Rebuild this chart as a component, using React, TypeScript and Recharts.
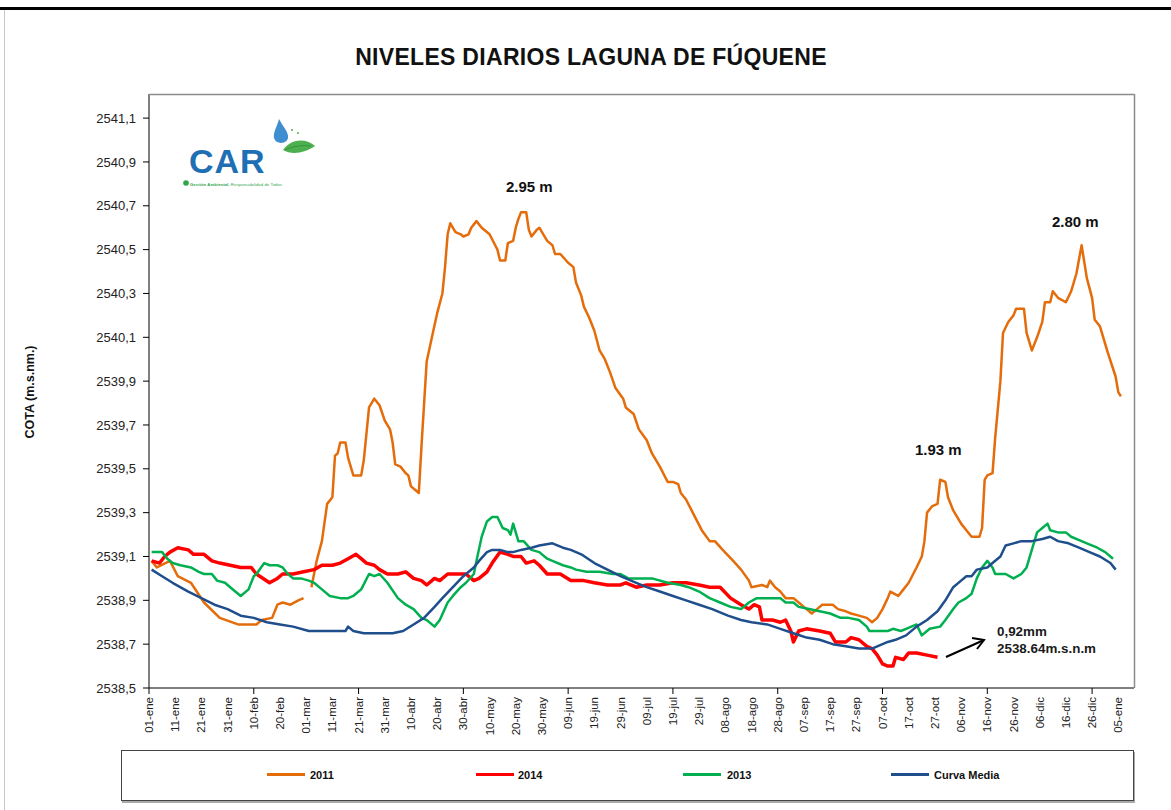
import React from 'react';
import { LineChart, Line, XAxis, YAxis } from 'recharts';

// etiquetas del eje X (cada 10 dias, eje de año bisiesto)
const etiquetasFecha = [
    '01-ene', '11-ene', '21-ene', '31-ene', '10-feb', '20-feb', '01-mar', '11-mar', '21-mar', '31-mar',
    '10-abr', '20-abr', '30-abr', '10-may', '20-may', '30-may', '09-jun', '19-jun', '29-jun', '09-jul',
    '19-jul', '29-jul', '08-ago', '18-ago', '28-ago', '07-sep', '17-sep', '27-sep', '07-oct', '17-oct',
    '27-oct', '06-nov', '16-nov', '26-nov', '06-dic', '16-dic', '26-dic', '05-ene'
];
const diasTicks = etiquetasFecha.map((_, i) => i * 10);

const cotasTicks = [
    2538.5, 2538.7, 2538.9, 2539.1, 2539.3, 2539.5, 2539.7, 2539.9, 2540.1, 2540.3, 2540.5, 2540.7, 2540.9, 2541.1
];

// [dia del año, cota m.s.n.m]
const serie2011: [number, number | null][] = [
    [1, 2539.08], [3, 2539.05], [8, 2539.08], [11, 2539.01], [16, 2538.98], [21, 2538.89], [27, 2538.82],
    [34, 2538.79], [41, 2538.79], [43, 2538.81], [47, 2538.82], [49, 2538.88], [51, 2538.89], [54, 2538.88],
    [57, 2538.90], [59, 2538.91], [60, null], [62, 2538.96], [64, 2539.08], [66, 2539.17], [68, 2539.34],
    [70, 2539.37], [71, 2539.56], [72, 2539.57], [73, 2539.62], [75, 2539.62], [76, 2539.55], [78, 2539.47],
    [81, 2539.47], [82, 2539.54], [84, 2539.78], [86, 2539.82], [88, 2539.79], [90, 2539.72], [92, 2539.68],
    [93, 2539.62], [94, 2539.52], [96, 2539.51], [98, 2539.48], [99, 2539.47], [100, 2539.42], [102, 2539.40],
    [103, 2539.39], [104, 2539.60], [106, 2539.99], [108, 2540.10], [110, 2540.21], [112, 2540.30],
    [113, 2540.42], [114, 2540.57], [115, 2540.62], [117, 2540.58], [119, 2540.57], [120, 2540.56],
    [122, 2540.57], [123, 2540.60], [125, 2540.63], [127, 2540.60], [130, 2540.57], [133, 2540.50],
    [134, 2540.45], [136, 2540.45], [137, 2540.53], [139, 2540.54], [140, 2540.60], [141, 2540.64],
    [142, 2540.67], [144, 2540.67], [145, 2540.59], [146, 2540.56], [148, 2540.59], [149, 2540.60],
    [150, 2540.58], [152, 2540.54], [154, 2540.52], [155, 2540.48], [157, 2540.48], [160, 2540.44],
    [162, 2540.42], [163, 2540.35], [165, 2540.29], [166, 2540.24], [168, 2540.19], [170, 2540.13],
    [172, 2540.04], [174, 2540.00], [176, 2539.94], [178, 2539.87], [181, 2539.82], [182, 2539.78],
    [185, 2539.75], [187, 2539.68], [190, 2539.63], [192, 2539.57], [195, 2539.51], [198, 2539.44],
    [200, 2539.44], [202, 2539.43], [203, 2539.39], [205, 2539.36], [208, 2539.29], [211, 2539.22],
    [214, 2539.17], [216, 2539.17], [219, 2539.13], [223, 2539.08], [226, 2539.04], [229, 2538.99],
    [230, 2538.96], [234, 2538.97], [236, 2538.96], [237, 2538.99], [239, 2538.96], [241, 2538.94],
    [243, 2538.91], [246, 2538.91], [248, 2538.89], [251, 2538.86], [253, 2538.84], [255, 2538.86],
    [257, 2538.88], [261, 2538.88], [263, 2538.86], [266, 2538.85], [268, 2538.84], [271, 2538.83],
    [274, 2538.82], [276, 2538.80], [278, 2538.82], [280, 2538.86], [282, 2538.91], [283, 2538.94],
    [286, 2538.92], [288, 2538.95], [290, 2538.98], [293, 2539.05], [295, 2539.10], [296, 2539.17],
    [297, 2539.30], [299, 2539.33], [301, 2539.34], [302, 2539.45], [304, 2539.44], [305, 2539.37],
    [307, 2539.31], [310, 2539.25], [312, 2539.22], [314, 2539.19], [317, 2539.19], [318, 2539.23],
    [319, 2539.45], [320, 2539.47], [322, 2539.48], [323, 2539.64], [325, 2539.90], [326, 2540.12],
    [328, 2540.17], [330, 2540.20], [331, 2540.23], [334, 2540.23], [335, 2540.12], [337, 2540.04],
    [339, 2540.10], [341, 2540.17], [342, 2540.26], [344, 2540.26], [345, 2540.31], [347, 2540.28],
    [350, 2540.26], [352, 2540.31], [354, 2540.39], [356, 2540.52], [358, 2540.37], [360, 2540.28],
    [361, 2540.18], [363, 2540.15], [366, 2540.03], [369, 2539.92], [370, 2539.85], [371, 2539.83]
];

const serie2014: [number, number][] = [
    [1, 2539.08], [4, 2539.07], [6, 2539.10], [8, 2539.12], [11, 2539.14], [15, 2539.13], [17, 2539.11],
    [21, 2539.11], [24, 2539.08], [27, 2539.07], [31, 2539.06], [35, 2539.05], [39, 2539.05], [41, 2539.02],
    [46, 2538.98], [49, 2539.00], [51, 2539.02], [55, 2539.02], [59, 2539.03], [63, 2539.04], [66, 2539.06],
    [70, 2539.06], [73, 2539.07], [76, 2539.09], [79, 2539.11], [81, 2539.09], [83, 2539.07], [86, 2539.06],
    [88, 2539.04], [91, 2539.02], [95, 2539.02], [98, 2539.03], [101, 2539.00], [104, 2538.99],
    [106, 2538.97], [109, 2539.00], [111, 2538.99], [114, 2539.02], [118, 2539.02], [121, 2539.02],
    [124, 2538.99], [126, 2539.00], [129, 2539.03], [131, 2539.07], [134, 2539.12], [137, 2539.11],
    [139, 2539.10], [142, 2539.10], [144, 2539.07], [147, 2539.08], [149, 2539.06], [152, 2539.02],
    [157, 2539.02], [161, 2538.99], [166, 2538.99], [170, 2538.98], [175, 2538.97], [180, 2538.97],
    [182, 2538.98], [186, 2538.96], [190, 2538.97], [195, 2538.97], [200, 2538.98], [205, 2538.98],
    [210, 2538.97], [214, 2538.96], [218, 2538.96], [222, 2538.91], [226, 2538.88], [229, 2538.86],
    [231, 2538.88], [233, 2538.87], [234, 2538.81], [238, 2538.81], [241, 2538.80], [243, 2538.81],
    [245, 2538.76], [246, 2538.71], [248, 2538.76], [251, 2538.77], [256, 2538.76], [260, 2538.75],
    [262, 2538.71], [266, 2538.71], [268, 2538.73], [271, 2538.72], [274, 2538.69], [276, 2538.68],
    [278, 2538.65], [280, 2538.61], [282, 2538.60], [284, 2538.60], [285, 2538.64], [288, 2538.63],
    [290, 2538.66], [293, 2538.66], [297, 2538.65], [301, 2538.64]
];

const serie2013: [number, number][] = [
    [1, 2539.12], [5, 2539.12], [7, 2539.09], [9, 2539.07], [12, 2539.06], [16, 2539.05], [19, 2539.03],
    [21, 2539.02], [24, 2539.02], [26, 2538.99], [29, 2538.98], [31, 2538.96], [35, 2538.92], [38, 2538.95],
    [40, 2539.01], [41, 2539.02], [44, 2539.07], [46, 2539.06], [49, 2539.06], [51, 2539.05], [53, 2539.02],
    [55, 2539.00], [58, 2539.00], [61, 2538.99], [63, 2538.98], [66, 2538.95], [69, 2538.92], [73, 2538.91],
    [76, 2538.91], [78, 2538.92], [80, 2538.94], [81, 2538.95], [84, 2539.02], [86, 2539.01], [88, 2539.02],
    [91, 2538.98], [95, 2538.91], [98, 2538.88], [101, 2538.86], [104, 2538.82], [106, 2538.81],
    [109, 2538.78], [111, 2538.81], [114, 2538.89], [116, 2538.92], [119, 2538.96], [121, 2538.98],
    [124, 2539.02], [125, 2539.08], [127, 2539.19], [129, 2539.26], [131, 2539.28], [133, 2539.28],
    [135, 2539.23], [137, 2539.22], [138, 2539.20], [139, 2539.25], [141, 2539.17], [143, 2539.17],
    [146, 2539.13], [149, 2539.12], [152, 2539.09], [154, 2539.08], [158, 2539.06], [161, 2539.05],
    [163, 2539.04], [167, 2539.03], [172, 2539.03], [177, 2539.02], [180, 2539.02], [183, 2539.00],
    [187, 2539.00], [192, 2539.00], [198, 2538.98], [203, 2538.97], [206, 2538.96], [210, 2538.94],
    [214, 2538.91], [218, 2538.89], [222, 2538.87], [226, 2538.86], [229, 2538.89], [232, 2538.91],
    [236, 2538.91], [241, 2538.91], [243, 2538.89], [246, 2538.89], [248, 2538.87], [252, 2538.86],
    [256, 2538.85], [260, 2538.84], [264, 2538.82], [267, 2538.82], [271, 2538.81], [274, 2538.78],
    [275, 2538.76], [278, 2538.76], [282, 2538.76], [284, 2538.77], [287, 2538.76], [289, 2538.77],
    [293, 2538.79], [295, 2538.74], [298, 2538.77], [302, 2538.78], [304, 2538.81], [307, 2538.86],
    [309, 2538.89], [312, 2538.91], [314, 2538.93], [316, 2539.00], [318, 2539.05], [320, 2539.08],
    [322, 2539.05], [323, 2539.02], [327, 2539.02], [330, 2539.00], [333, 2539.02], [335, 2539.05],
    [337, 2539.13], [339, 2539.21], [341, 2539.23], [343, 2539.25], [344, 2539.22], [347, 2539.21],
    [350, 2539.21], [352, 2539.19], [356, 2539.17], [358, 2539.16], [362, 2539.14], [365, 2539.12],
    [368, 2539.09]
];

const serieMedia: [number, number][] = [
    [1, 2539.04], [5, 2539.01], [9, 2538.98], [15, 2538.94], [20, 2538.91], [25, 2538.88], [30, 2538.86],
    [35, 2538.83], [40, 2538.82], [45, 2538.80], [50, 2538.79], [55, 2538.78], [61, 2538.76], [66, 2538.76],
    [71, 2538.76], [75, 2538.76], [76, 2538.78], [78, 2538.76], [82, 2538.75], [88, 2538.75], [93, 2538.75],
    [97, 2538.76], [101, 2538.79], [105, 2538.82], [109, 2538.87], [112, 2538.91], [116, 2538.96],
    [120, 2539.01], [124, 2539.05], [126, 2539.08], [129, 2539.12], [131, 2539.13], [134, 2539.13],
    [137, 2539.12], [139, 2539.12], [142, 2539.13], [146, 2539.14], [149, 2539.15], [154, 2539.16],
    [158, 2539.14], [161, 2539.13], [165, 2539.11], [170, 2539.07], [175, 2539.04], [180, 2539.01],
    [182, 2539.00], [186, 2538.98], [190, 2538.96], [195, 2538.94], [200, 2538.92], [205, 2538.90],
    [210, 2538.88], [215, 2538.86], [221, 2538.83], [226, 2538.81], [230, 2538.80], [236, 2538.79],
    [241, 2538.77], [246, 2538.75], [251, 2538.73], [256, 2538.72], [261, 2538.70], [266, 2538.69],
    [271, 2538.68], [276, 2538.68], [278, 2538.69], [282, 2538.71], [285, 2538.72], [289, 2538.74],
    [293, 2538.78], [297, 2538.81], [301, 2538.85], [304, 2538.90], [307, 2538.96], [310, 2538.99],
    [312, 2539.01], [314, 2539.01], [316, 2539.04], [320, 2539.05], [322, 2539.07], [325, 2539.10],
    [327, 2539.15], [330, 2539.16], [333, 2539.17], [337, 2539.17], [341, 2539.18], [344, 2539.19],
    [347, 2539.17], [351, 2539.16], [355, 2539.14], [359, 2539.12], [363, 2539.10], [367, 2539.07],
    [369, 2539.04]
];

const series = [
    { nombre: '2011', datos: serie2011, color: '#E46C0A', ancho: 2.5 },
    { nombre: '2014', datos: serie2014, color: '#FF0000', ancho: 3.5 },
    { nombre: '2013', datos: serie2013, color: '#00B050', ancho: 2.5 },
    { nombre: 'Curva Media', datos: serieMedia, color: '#1F4E8C', ancho: 2.5 }
];

const FONT = "'Liberation Sans', Arial, sans-serif";

const FechaTick = (props: any) => {
    const { x, y, payload } = props;
    const i = Math.round(payload.value / 10);
    return (
        <g transform={`translate(${x},${y})`}>
            {i % 4 === 0 && <line x1={0} y1={0} x2={0} y2={6} stroke="#000" />}
            <text
                transform="rotate(-90)"
                x={-9}
                y={0}
                dy="0.35em"
                textAnchor="end"
                fontSize={11.5}
                fontFamily={FONT}
                fill="#222"
            >
                {etiquetasFecha[i]}
            </text>
        </g>
    );
};

const leyenda = [
    { x: 267, tx: 310 },
    { x: 476, tx: 518 },
    { x: 683, tx: 727 },
    { x: 891, tx: 934 }
];

const App = () => {
    return (
        <div style={{ position: 'absolute', left: 0, top: 0, width: 1171, height: 810, background: '#fff', overflow: 'hidden' }}>
            <div style={{ position: 'absolute', left: 0, top: 7, width: 1171, height: 3, background: '#000' }} />
            <div style={{ position: 'absolute', left: 4, top: 10, width: 1, height: 800, background: '#c8c8c8' }} />

            <div style={{ position: 'absolute', left: 0, top: 0 }}>
                <LineChart width={1171} height={810} margin={{ top: 94, right: 37, bottom: 62, left: 89 }}>
                    <XAxis
                        dataKey="d"
                        type="number"
                        domain={[0, 376]}
                        ticks={diasTicks}
                        interval={0}
                        allowDataOverflow
                        height={60}
                        tickLine={false}
                        tickSize={0}
                        tickMargin={0}
                        axisLine={{ stroke: '#000' }}
                        tick={<FechaTick />}
                    />
                    <YAxis
                        type="number"
                        domain={[2538.5, 2541.21]}
                        ticks={cotasTicks}
                        interval={0}
                        allowDataOverflow
                        width={60}
                        tickSize={6}
                        tickMargin={7}
                        axisLine={{ stroke: '#000' }}
                        tickLine={{ stroke: '#000' }}
                        tick={{ fontSize: 13, fill: '#222', fontFamily: FONT }}
                        tickFormatter={(v: number) => v.toFixed(1).replace('.', ',')}
                    />
                    {series.map(s => (
                        <Line
                            key={s.nombre}
                            data={s.datos.map(([d, v]) => ({ d, v }))}
                            dataKey="v"
                            type="linear"
                            stroke={s.color}
                            strokeWidth={s.ancho}
                            strokeLinejoin="round"
                            dot={false}
                            activeDot={false}
                            connectNulls={false}
                            isAnimationActive={false}
                        />
                    ))}
                </LineChart>
            </div>

            <svg width={1171} height={810} style={{ position: 'absolute', left: 0, top: 0, pointerEvents: 'none' }}>
                <line x1={149} y1={94.5} x2={1134.5} y2={94.5} stroke="#8c8c8c" strokeWidth={1.5} />
                <line x1={1134.5} y1={94} x2={1134.5} y2={688} stroke="#8c8c8c" strokeWidth={1.5} />

                <text x={591} y={65} textAnchor="middle" fontFamily={FONT} fontWeight="bold" fontSize={23} letterSpacing={0.3} fill="#111">
                    NIVELES DIARIOS LAGUNA DE FÚQUENE
                </text>

                <text transform="translate(34,392) rotate(-90)" textAnchor="middle" fontFamily={FONT} fontWeight="bold" fontSize={12.5} fill="#111">
                    COTA (m.s.nm.)
                </text>

                {/* logo CAR */}
                <text x={189} y={173} fontFamily={FONT} fontWeight="bold" fontSize={34} letterSpacing={1} fill="#1E6FB4">CAR</text>
                <path d="M279,119 C283,127 289,132 288,138 C287,144 276,145 274,138 C273,132 277,127 279,119 Z" fill="#3F8ED0" />
                <path d="M283,150 C291,138 307,138 315,146 C306,152 293,156 283,150 Z" fill="#4DB04F" />
                <path d="M285,150 C293,146 303,145 311,146" stroke="#2E8B3A" strokeWidth={0.8} fill="none" />
                <circle cx={292} cy={130} r={1} fill="#4DB04F" />
                <circle cx={298} cy={133} r={1} fill="#4DB04F" />
                <circle cx={186} cy={183} r={2.8} fill="#2FA64A" />
                <text x={190} y={185.5} fontFamily={FONT} fontSize={4.2} fill="#2FA64A" textLength={92}>
                    <tspan fontWeight="bold">Gestión Ambiental,</tspan> Responsabilidad de Todos
                </text>

                {/* anotaciones */}
                <text x={506} y={192} fontFamily={FONT} fontWeight="bold" fontSize={15} fill="#111">2.95 m</text>
                <text x={1052} y={227} fontFamily={FONT} fontWeight="bold" fontSize={15} fill="#111">2.80 m</text>
                <text x={915} y={455} fontFamily={FONT} fontWeight="bold" fontSize={15} fill="#111">1.93 m</text>
                <text x={997} y={636} fontFamily={FONT} fontWeight="bold" fontSize={13.4} fill="#1a1a1a">0,92mm</text>
                <text x={997} y={653} fontFamily={FONT} fontWeight="bold" fontSize={13.4} fill="#1a1a1a">2538.64m.s.n.m</text>
                <line x1={946} y1={657} x2={984} y2={640} stroke="#000" strokeWidth={2} />
                <path d="M972,638 L984,640 L977,649" stroke="#000" strokeWidth={2} fill="none" />
            </svg>

            {/* leyenda */}
            <div style={{
                position: 'absolute', left: 121, top: 750, width: 1011, height: 49,
                border: '1px solid #444', boxShadow: '1px 2px 0 #aaa', background: '#fff'
            }} />
            {series.map((s, i) => (
                <React.Fragment key={s.nombre}>
                    <div style={{ position: 'absolute', left: leyenda[i].x, top: 773, width: 38, height: 3, background: s.color }} />
                    <div style={{
                        position: 'absolute', left: leyenda[i].tx, top: 768, fontFamily: FONT, fontWeight: 'bold',
                        fontSize: 11, color: '#111', lineHeight: '14px', whiteSpace: 'nowrap'
                    }}>
                        {s.nombre}
                    </div>
                </React.Fragment>
            ))}
        </div>
    );
};

export default App;
